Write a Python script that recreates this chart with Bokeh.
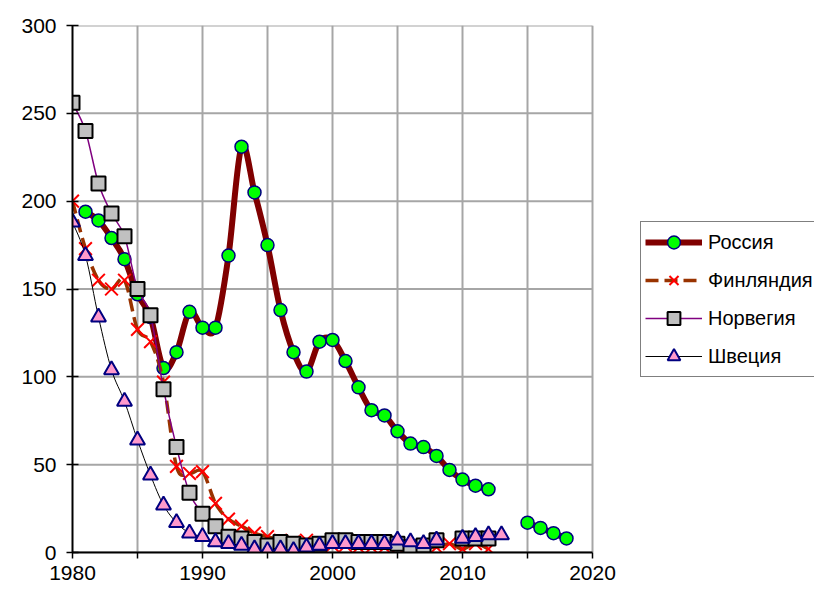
from bokeh.plotting import figure
from bokeh.models import Legend, LegendItem, FixedTicker, Range1d
from bokeh.embed import file_html
from bokeh.resources import INLINE

years = list(range(1980, 2019))
N = None
russia = [N, 194, 189, 179, 167, 147, 134, 105, 114, 137, 128, 128, 169, 231, 205, 175, 138, 114, 103, 120,
          121, 109, 94, 81, 78, 69, 62, 60, 55, 47, 41.5, 38, 36, N, N, 17, 14, 11, 8]
finland = [200, 173, 155, 150, 155, 127, 120, 97, 49, 45, 46, 28, 19, 15, 11, 9, 7, 6, 7, 5,
           4, 4, 3, 3, 3, 3, 3, 3, 3, 5, 2, 5, 2, N, N, N, N, N, N]
norway = [256, 240, 210, 193, 180, 150, 135, 93, 60, 34, 22, 15, 9, 8, 6, 4, 6, 5, 4, 5,
          7, 7, 6, 6, 6, 5, 3, 4, 7, N, 8, 8, 8, N, N, N, N, N, N]
sweden = [188, 169, 134, 104, 86, 64, 44, 27, 17, 11, 9, 6, 5, 4, 2, 1, 2, 1, 3, 4,
          5, 5, 5, 5, 5, 7, 6, 5, 7, N, 8, 9, 10, 10, N, N, N, N, N]
names = ["Россия", "Финляндия", "Норвегия", "Швеция"]
x_ticks = [1980, 1990, 2000, 2010, 2020]
x_minor = [1985, 1995, 2005, 2015]
y_ticks = [0, 50, 100, 150, 200, 250, 300]

FONT = "Liberation Sans"
GRID = "#A6A6A6"

W, H = 814, 586
LEFT, TOP, BOTTOM = 72, 25, 34
PLOT_W = 520  # pixel width of the 1980-2020 plot area
frame_w = W - LEFT
x_end = x_ticks[0] + (x_ticks[-1] - x_ticks[0]) * frame_w / PLOT_W


def runs(xs, ys):
    out, cur = [], []
    for x, y in zip(xs, ys):
        if y is None:
            if cur:
                out.append(cur)
            cur = []
        else:
            cur.append((x, y))
    if cur:
        out.append(cur)
    return out


def bez(xs, ys):
    d = dict(x0=[], y0=[], x1=[], y1=[], cx0=[], cy0=[], cx1=[], cy1=[])
    for r in runs(xs, ys):
        n = len(r)
        for i in range(n - 1):
            p0 = r[i - 1] if i > 0 else r[i]
            p1, p2 = r[i], r[i + 1]
            p3 = r[i + 2] if i + 2 < n else r[i + 1]
            d["x0"].append(p1[0]); d["y0"].append(p1[1])
            d["x1"].append(p2[0]); d["y1"].append(p2[1])
            d["cx0"].append(p1[0] + (p2[0] - p0[0]) / 6); d["cy0"].append(p1[1] + (p2[1] - p0[1]) / 6)
            d["cx1"].append(p2[0] - (p3[0] - p1[0]) / 6); d["cy1"].append(p2[1] - (p3[1] - p1[1]) / 6)
    return d


def pts(xs, ys):
    px = [x for x, y in zip(xs, ys) if y is not None]
    py = [y for y in ys if y is not None]
    return px, py


p = figure(width=W, height=H, output_backend="svg", toolbar_location=None,
           x_range=Range1d(x_ticks[0], x_end), y_range=Range1d(y_ticks[0], y_ticks[-1]),
           min_border_left=LEFT, min_border_right=0, min_border_top=TOP, min_border_bottom=BOTTOM)
p.outline_line_color = None
p.background_fill_color = "white"
p.border_fill_color = "white"

# plot-area grid (restricted to 1980-2020)
p.ygrid.grid_line_color = None
p.segment(x0=[x_ticks[0]] * len(y_ticks), x1=[x_ticks[-1]] * len(y_ticks), y0=y_ticks, y1=y_ticks,
          line_color=GRID, line_width=2)
p.xgrid.grid_line_color = GRID
p.xgrid.grid_line_width = 2
p.xgrid.minor_grid_line_color = GRID
p.xgrid.minor_grid_line_width = 2

p.xaxis.ticker = FixedTicker(ticks=x_ticks, minor_ticks=x_minor)
p.xaxis.bounds = (x_ticks[0], x_ticks[-1])
p.yaxis.ticker = FixedTicker(ticks=y_ticks, minor_ticks=[])
for ax in (p.xaxis[0], p.yaxis[0]):
    ax.axis_line_color = "black"
    ax.axis_line_width = 2
    ax.major_tick_line_color = "black"
    ax.major_tick_line_width = 1.5
    ax.minor_tick_line_color = "black"
    ax.minor_tick_line_width = 1.5
    ax.major_label_text_font = FONT
    ax.major_label_text_font_size = "21px"
    ax.major_label_text_color = "black"
p.xaxis.major_tick_in = 0
p.xaxis.major_tick_out = 6
p.xaxis.minor_tick_in = 0
p.xaxis.minor_tick_out = 6
p.xaxis.major_label_standoff = 7
p.yaxis.major_tick_in = 6
p.yaxis.major_tick_out = 6
p.yaxis.major_label_standoff = 10

styles = [
    dict(line=dict(line_color="#800000", line_width=6),
         mk=dict(marker="circle", size=13, fill_color="#00FF00", line_color="#000080", line_width=1.5)),
    dict(line=dict(line_color="#993300", line_width=3.5, line_dash="13 6"),
         mk=dict(marker="x", size=18, fill_color=None, line_color="#FF0000", line_width=2)),
    dict(line=dict(line_color="#800080", line_width=1.5),
         mk=dict(marker="square", size=14, fill_color="#C0C0C0", line_color="black", line_width=2)),
    dict(line=dict(line_color="black", line_width=1),
         mk=dict(marker="triangle", size=15, fill_color="#FF99CC", line_color="#000080", line_width=2)),
]

items = []
for name, ys, st in zip(names, [russia, finland, norway, sweden], styles):
    bz = p.bezier(x0="x0", y0="y0", x1="x1", y1="y1", cx0="cx0", cy0="cy0", cx1="cx1", cy1="cy1",
                  source=bez(years, ys), **st["line"])
    px, py = pts(years, ys)
    sc = p.scatter(x=px, y=py, **st["mk"])
    items.append(LegendItem(label=name, renderers=[bz, sc]))

legend = Legend(items=items, location=(568, 175), orientation="vertical",
                label_text_font=FONT, label_text_font_size="20px", label_text_color="black",
                glyph_width=57, glyph_height=32, label_height=32, spacing=6, padding=4,
                margin=0, label_standoff=6, click_policy="none",
                border_line_color="black", border_line_width=1.5,
                background_fill_color="white", background_fill_alpha=1)
p.add_layout(legend, "center")

open("out.html", "w").write(file_html(p, INLINE))
